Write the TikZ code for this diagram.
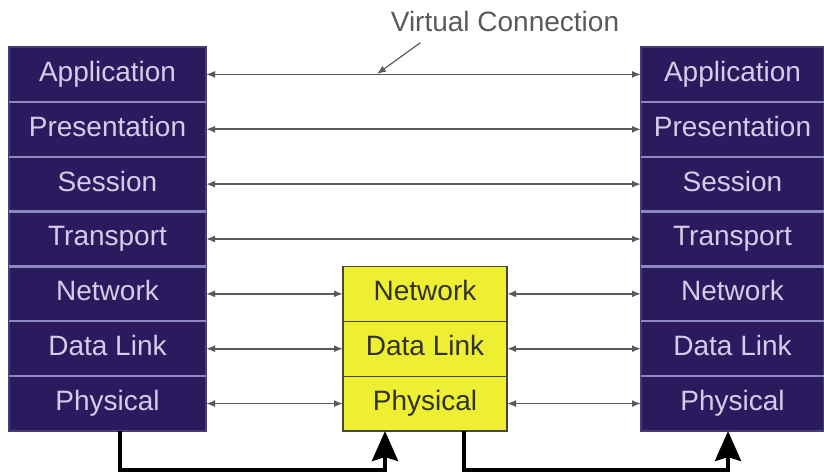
\documentclass[tikz,border=0pt]{standalone}
\usepackage{fontspec}
\setmainfont{Liberation Sans}
\usepackage{tikz}
\usetikzlibrary{arrows.meta,positioning}
\tikzset{>={Latex[width=3.5pt,length=4.5pt]}}
\definecolor{navy}{RGB}{43,27,94}
\definecolor{navyedge}{RGB}{70,62,110}
\definecolor{sepline}{RGB}{140,135,190}
\definecolor{paletext}{RGB}{210,205,232}
\definecolor{relayfill}{RGB}{238,238,50}
\definecolor{relayline}{RGB}{70,70,60}
\definecolor{relaytext}{RGB}{50,50,45}
\definecolor{linkgray}{RGB}{90,90,90}

\begin{document}
\begin{tikzpicture}[x=1pt, y=1pt, node distance=0pt,
  layer/.style = {draw=navyedge, line width=0.6pt, fill=navy, text=paletext, minimum width=98.5pt, minimum height=27.43pt, inner sep=0pt, outer sep=0pt, text height=10pt, text depth=3pt, font=\fontsize{14}{14}\selectfont},
  relay/.style = {layer, draw=relayline, fill=relayfill, text=relaytext, minimum width=82pt},
  link/.style = {<->, draw=linkgray, line width=0.8pt},
  bus/.style = {-{Stealth[length=15pt,width=13pt,inset=2pt]}, line width=2.2pt, black}]
\useasboundingbox (0,0) rectangle (412,237);
% left stack
\node[layer, anchor=north west] (lapp) at (4.5,213.5) {Application};
\node[layer] (lpres) [below=of lapp] {Presentation};
\node[layer] (lses) [below=of lpres] {Session};
\node[layer] (ltra) [below=of lses] {Transport};
\node[layer] (lnet) [below=of ltra] {Network};
\node[layer] (ldat) [below=of lnet] {Data Link};
\node[layer] (lphy) [below=of ldat] {Physical};
% right stack
\node[layer, minimum width=91.5pt] (rapp) [right=217.5pt of lapp] {Application};
\node[layer, minimum width=91.5pt] (rpres) [below=of rapp] {Presentation};
\node[layer, minimum width=91.5pt] (rses) [below=of rpres] {Session};
\node[layer, minimum width=91.5pt] (rtra) [below=of rses] {Transport};
\node[layer, minimum width=91.5pt] (rnet) [below=of rtra] {Network};
\node[layer, minimum width=91.5pt] (rdat) [below=of rnet] {Data Link};
\node[layer, minimum width=91.5pt] (rphy) [below=of rdat] {Physical};
% light rules between the layers
\foreach \n in {lapp,lpres,lses,ltra,lnet,ldat,rapp,rpres,rses,rtra,rnet,rdat}
  \draw[sepline, line width=1.2pt] (\n.south west) -- (\n.south east);
% relay in the middle
\node[relay] (mnet) [right=68.5pt of lnet] {Network};
\node[relay] (mdat) [below=of mnet] {Data Link};
\node[relay] (mphy) [below=of mdat] {Physical};
% peer links
\draw[link] (lapp) -- (rapp);
\draw[link] (lpres) -- (rpres);
\draw[link] (lses) -- (rses);
\draw[link] (ltra) -- (rtra);
\draw[link] (lnet) -- (mnet);
\draw[link] (ldat) -- (mdat);
\draw[link] (lphy) -- (mphy);
\draw[link] (mnet) -- (rnet);
\draw[link] (mdat) -- (rdat);
\draw[link] (mphy) -- (rphy);
% label
\node[font=\fontsize{14}{14}\selectfont, text=linkgray, inner sep=0pt] (vc) at (252.5,226) {Virtual Connection};
\coordinate (vctip) at (188.5,200);
\draw[->, draw=linkgray, line width=0.6pt] ([xshift=15pt,yshift=-5pt]vc.south west) -- (vctip);
% physical path
\draw[bus] ([xshift=6.25pt]lphy.south) -- ++(0,-19.5) -| ([xshift=-20pt]mphy.south);
\draw[bus] ([xshift=19.5pt]mphy.south) -- ++(0,-19.5) -| ([xshift=-2.25pt]rphy.south);
\end{tikzpicture}
\end{document}
